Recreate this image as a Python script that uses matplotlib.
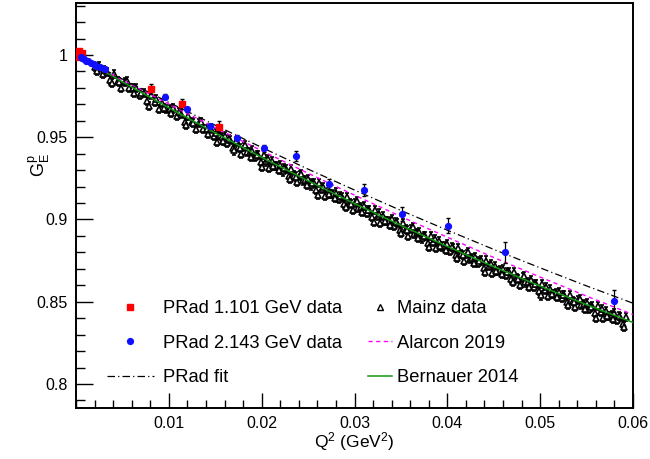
import matplotlib
matplotlib.use("Agg")
import matplotlib.pyplot as plt
from matplotlib.ticker import MultipleLocator, FixedLocator
from matplotlib.lines import Line2D

plt.rcParams["font.family"] = ["Liberation Sans", "DejaVu Sans"]
plt.rcParams["mathtext.fontset"] = "custom"
plt.rcParams["mathtext.rm"] = "Liberation Sans"
plt.rcParams["mathtext.it"] = "Liberation Sans"

# model curves
curve_q2 = [0.0002, 0.005, 0.01, 0.015, 0.02, 0.025, 0.03, 0.035, 0.04, 0.045, 0.05, 0.055, 0.06]
prad_fit = [0.9994, 0.9854, 0.9712, 0.9573, 0.9438, 0.9306, 0.9179, 0.9055, 0.8935, 0.8818, 0.8706, 0.8596, 0.8491]
alarcon = [0.9994, 0.9849, 0.9702, 0.9558, 0.9418, 0.9281, 0.9148, 0.9018, 0.8892, 0.8769, 0.8650, 0.8534, 0.8422]
bernauer = [0.9993, 0.9837, 0.9679, 0.9526, 0.9378, 0.9235, 0.9097, 0.8964, 0.8836, 0.8713, 0.8595, 0.8482, 0.8374]

# PRad 1.101 GeV
red_q2 = [0.00021, 0.00026, 0.00031, 0.00037, 0.00045, 0.00060, 0.0081, 0.0114, 0.0154]
red_ge = [1.0012, 0.9996, 1.0022, 0.9990, 1.0006, 1.0015, 0.9792, 0.9702, 0.9565]
red_err = [0.0020, 0.0018, 0.0016, 0.0014, 0.0012, 0.0012, 0.0030, 0.0030, 0.0035]

# PRad 2.143 GeV
blue_q2 = [0.0005, 0.0007, 0.0009, 0.0011, 0.0013, 0.0016, 0.0019, 0.0022, 0.0026, 0.0031, 0.0096,
           0.0120, 0.0144, 0.0173, 0.0203, 0.0237, 0.0272, 0.0310, 0.0351, 0.0401, 0.0462, 0.0579]
blue_ge = [0.9986, 0.9980, 0.9975, 0.9966, 0.9962, 0.9950, 0.9945, 0.9932, 0.9924, 0.9912, 0.9747,
           0.9670, 0.9567, 0.9497, 0.9433, 0.9388, 0.9216, 0.9180, 0.9032, 0.8961, 0.8801, 0.8505]
blue_err = [0.0008, 0.0008, 0.0008, 0.0008, 0.0008, 0.0008, 0.0008, 0.0009, 0.0009, 0.0010, 0.0015,
            0.0015, 0.0015, 0.0018, 0.0020, 0.0030, 0.0030, 0.0036, 0.0043, 0.0045, 0.0064, 0.0069]

# Mainz data
mainz_q2 = [0.0021, 0.0025, 0.0029, 0.0033, 0.0037, 0.0041, 0.0045, 0.0049, 0.0053, 0.0057,
            0.0061, 0.0065, 0.0069, 0.0073, 0.0077, 0.0081, 0.0085, 0.0089, 0.0093, 0.0097,
            0.0101, 0.0105, 0.0109, 0.0113, 0.0117, 0.0121, 0.0125, 0.0129, 0.0133, 0.0137,
            0.0141, 0.0145, 0.0149, 0.0152, 0.0154,
            0.0157, 0.0160, 0.0163, 0.0166, 0.0169, 0.0172, 0.0175, 0.0178, 0.0181, 0.0184,
            0.0187, 0.0190, 0.0193, 0.0196, 0.0199, 0.0202, 0.0205, 0.0208, 0.0211, 0.0214,
            0.0217, 0.0220, 0.0223, 0.0226, 0.0229, 0.0232, 0.0235, 0.0238, 0.0241, 0.0244,
            0.0247, 0.0250, 0.0253, 0.0256, 0.0259, 0.0262, 0.0265, 0.0268, 0.0271, 0.0274,
            0.0277, 0.0280, 0.0283, 0.0286, 0.0289, 0.0292, 0.0295, 0.0298, 0.0301, 0.0304,
            0.0307, 0.0310, 0.0313, 0.0316, 0.0319, 0.0322, 0.0325, 0.0328, 0.0331, 0.0334,
            0.0337, 0.0340, 0.0343, 0.0346, 0.0349, 0.0352, 0.0355, 0.0358, 0.0361, 0.0364,
            0.0367, 0.0370, 0.0373, 0.0376, 0.0379, 0.0382, 0.0385, 0.0388, 0.0391, 0.0394,
            0.0397, 0.0400, 0.0403, 0.0406, 0.0409, 0.0412, 0.0415, 0.0418, 0.0421, 0.0424,
            0.0427, 0.0430, 0.0433, 0.0436, 0.0439, 0.0442, 0.0445, 0.0448, 0.0451, 0.0454,
            0.0457, 0.0460, 0.0463, 0.0466, 0.0469, 0.0472, 0.0475, 0.0478, 0.0481, 0.0484,
            0.0487, 0.0490, 0.0493, 0.0496, 0.0499, 0.0502, 0.0505, 0.0508, 0.0511, 0.0514,
            0.0517, 0.0520, 0.0523, 0.0526, 0.0529, 0.0532, 0.0535, 0.0538, 0.0541, 0.0544,
            0.0547, 0.0550, 0.0553, 0.0556, 0.0559, 0.0562, 0.0565, 0.0568, 0.0571, 0.0574,
            0.0577, 0.0580, 0.0583, 0.0586, 0.0589, 0.0592,
            0.00225, 0.00305, 0.00385, 0.00465, 0.00545, 0.00625, 0.00705, 0.00785, 0.00865, 0.00945,
            0.01025, 0.01105, 0.01185, 0.01265, 0.01345, 0.01425, 0.01505,
            0.01585, 0.01645, 0.01705, 0.01765, 0.01825, 0.01885, 0.01945, 0.02005, 0.02065, 0.02125,
            0.02185, 0.02245, 0.02305, 0.02365, 0.02425, 0.02485, 0.02545, 0.02605, 0.02665, 0.02725,
            0.02785, 0.02845, 0.02905, 0.02965, 0.03025, 0.03085, 0.03145, 0.03205, 0.03265, 0.03325,
            0.03385, 0.03445, 0.03505, 0.03565, 0.03625, 0.03685, 0.03745, 0.03805, 0.03865, 0.03925,
            0.03985, 0.04045, 0.04105, 0.04165, 0.04225, 0.04285, 0.04345, 0.04405, 0.04465, 0.04525,
            0.04585, 0.04645, 0.04705, 0.04765, 0.04825, 0.04885, 0.04945, 0.05005, 0.05065, 0.05125,
            0.05185, 0.05245, 0.05305, 0.05365, 0.05425, 0.05485, 0.05545, 0.05605, 0.05665, 0.05725,
            0.05785, 0.05845, 0.05905]
mainz_ge = [0.9926, 0.9930, 0.9885, 0.9896, 0.9847, 0.9884, 0.9843, 0.9798, 0.9835, 0.9800,
            0.9797, 0.9801, 0.9756, 0.9768, 0.9719, 0.9757, 0.9716, 0.9671, 0.9709, 0.9673,
            0.9671, 0.9675, 0.9631, 0.9643, 0.9594, 0.9632, 0.9592, 0.9548, 0.9585, 0.9550,
            0.9548, 0.9553, 0.9509, 0.9473, 0.9515,
            0.9500, 0.9508, 0.9467, 0.9482, 0.9437, 0.9478, 0.9441, 0.9401, 0.9442, 0.9410,
            0.9411, 0.9419, 0.9379, 0.9394, 0.9349, 0.9390, 0.9353, 0.9313, 0.9354, 0.9323,
            0.9324, 0.9332, 0.9292, 0.9307, 0.9263, 0.9304, 0.9267, 0.9227, 0.9268, 0.9237,
            0.9238, 0.9247, 0.9207, 0.9222, 0.9178, 0.9220, 0.9183, 0.9143, 0.9185, 0.9153,
            0.9155, 0.9164, 0.9123, 0.9139, 0.9095, 0.9137, 0.9101, 0.9060, 0.9102, 0.9071,
            0.9073, 0.9082, 0.9042, 0.9058, 0.9014, 0.9056, 0.9020, 0.8980, 0.9022, 0.8991,
            0.8993, 0.9002, 0.8962, 0.8979, 0.8935, 0.8977, 0.8941, 0.8901, 0.8944, 0.8913,
            0.8915, 0.8924, 0.8885, 0.8901, 0.8858, 0.8900, 0.8864, 0.8825, 0.8867, 0.8836,
            0.8839, 0.8848, 0.8809, 0.8825, 0.8782, 0.8824, 0.8789, 0.8749, 0.8792, 0.8761,
            0.8764, 0.8774, 0.8734, 0.8751, 0.8708, 0.8750, 0.8715, 0.8676, 0.8719, 0.8688,
            0.8691, 0.8701, 0.8662, 0.8679, 0.8636, 0.8679, 0.8643, 0.8604, 0.8647, 0.8617,
            0.8620, 0.8630, 0.8591, 0.8608, 0.8565, 0.8608, 0.8573, 0.8535, 0.8578, 0.8548,
            0.8551, 0.8561, 0.8522, 0.8540, 0.8497, 0.8540, 0.8505, 0.8467, 0.8510, 0.8480,
            0.8484, 0.8494, 0.8455, 0.8473, 0.8430, 0.8474, 0.8439, 0.8401, 0.8444, 0.8415,
            0.8418, 0.8429, 0.8391, 0.8408, 0.8366, 0.8409,
            0.9902, 0.9906, 0.9830, 0.9837, 0.9843, 0.9768, 0.9770, 0.9692, 0.9732, 0.9679,
            0.9647, 0.9652, 0.9577, 0.9586, 0.9593, 0.9519, 0.9523,
            0.9476, 0.9488, 0.9420, 0.9435, 0.9450, 0.9382, 0.9393, 0.9322, 0.9369, 0.9324,
            0.9300, 0.9313, 0.9246, 0.9261, 0.9276, 0.9209, 0.9221, 0.9151, 0.9199, 0.9155,
            0.9131, 0.9144, 0.9078, 0.9095, 0.9110, 0.9044, 0.9056, 0.8987, 0.9036, 0.8992,
            0.8969, 0.8983, 0.8918, 0.8935, 0.8952, 0.8886, 0.8899, 0.8831, 0.8880, 0.8837,
            0.8815, 0.8830, 0.8765, 0.8783, 0.8800, 0.8735, 0.8748, 0.8681, 0.8731, 0.8689,
            0.8667, 0.8683, 0.8619, 0.8637, 0.8655, 0.8591, 0.8605, 0.8538, 0.8589, 0.8548,
            0.8527, 0.8543, 0.8480, 0.8499, 0.8518, 0.8455, 0.8469, 0.8403, 0.8455, 0.8414,
            0.8394, 0.8412, 0.8349]
mainz_err = 0.0025

fig = plt.figure(figsize=(6.5, 4.59), dpi=100)
ax = fig.add_axes([76 / 650, 51 / 459, 557 / 650, 405 / 459])

ax.errorbar(mainz_q2, mainz_ge, yerr=mainz_err, fmt="^", color="black", mfc="white",
            mec="black", ms=4.6, mew=1.2, elinewidth=1.1, capsize=1.6, zorder=2)
ax.plot(curve_q2, bernauer, color="#129612", lw=1.1, zorder=3)
ax.plot(curve_q2, alarcon, color="#ff00ff", lw=1.0, ls=(0, (3, 2.5)), zorder=3)
ax.plot(curve_q2, prad_fit, color="black", lw=0.9, ls=(0, (6, 2.5, 1, 2.5)), zorder=3)
ax.errorbar(red_q2, red_ge, yerr=red_err, fmt="s", color="red", ecolor="black",
            ms=4.2, elinewidth=0.9, capsize=1.5, zorder=4)
ax.errorbar(blue_q2, blue_ge, yerr=blue_err, fmt="o", color="#1010ff", ecolor="black",
            ms=4.2, elinewidth=0.9, capsize=1.5, zorder=4)

ax.set_xlim(0.0, 0.06)
ax.set_ylim(0.7854, 1.0316)
ax.xaxis.set_major_locator(FixedLocator([0.01, 0.02, 0.03, 0.04, 0.05, 0.06]))
ax.xaxis.set_minor_locator(MultipleLocator(0.002))
ax.yaxis.set_major_locator(FixedLocator([0.8, 0.85, 0.9, 0.95, 1.0]))
ax.yaxis.set_minor_locator(MultipleLocator(0.01))
ax.set_xticklabels(["0.01", "0.02", "0.03", "0.04", "0.05", "0.06"])
ax.set_yticklabels(["0.8", "0.85", "0.9", "0.95", "1"])
ax.tick_params(axis="both", which="both", direction="in", top=False, right=False,
               labelsize=11.5, width=1.0)
ax.tick_params(axis="y", which="major", length=12, pad=6)
ax.tick_params(axis="y", which="minor", length=6.5)
ax.tick_params(axis="x", which="major", length=11, pad=6)
ax.tick_params(axis="x", which="minor", length=5.5)
for s in ax.spines.values():
    s.set_linewidth(1.4)

ax.set_xlabel(r"Q$^{2}$ (GeV$^{2}$)", fontsize=12.5)
ax.xaxis.set_label_coords(0.5, -0.054)
ax.set_ylabel(r"G$_{\mathrm{E}}^{\mathrm{p}}$", fontsize=13)
ax.yaxis.set_label_coords(-0.043, 0.6)

left_h = [Line2D([], [], marker="s", color="red", ls="none", ms=4.2),
          Line2D([], [], marker="o", color="#1010ff", ls="none", ms=4.2),
          Line2D([], [], color="black", lw=0.9, ls=(0, (6, 2.5, 1, 2.5)))]
left_l = ["PRad 1.101 GeV data", "PRad 2.143 GeV data", "PRad fit"]
right_h = [Line2D([], [], marker="^", color="black", mfc="white", ls="none", ms=4.2, mew=1.0),
           Line2D([], [], color="#ff00ff", lw=1.0, ls=(0, (3, 2.5))),
           Line2D([], [], color="#129612", lw=1.1)]
right_l = ["Mainz data", "Alarcon 2019", "Bernauer 2014"]

leg1 = ax.legend(left_h, left_l, loc="center left", bbox_to_anchor=(0.0557, 0.160),
                 frameon=False, fontsize=13.2, handlelength=2.55, handletextpad=0.5,
                 labelspacing=0.97, borderpad=0, borderaxespad=0)
ax.add_artist(leg1)
ax.legend(right_h, right_l, loc="center left", bbox_to_anchor=(0.524, 0.160),
          frameon=False, fontsize=13.2, handlelength=1.33, handletextpad=0.28,
          labelspacing=0.97, borderpad=0, borderaxespad=0)

fig.savefig("out.png", dpi=100)
